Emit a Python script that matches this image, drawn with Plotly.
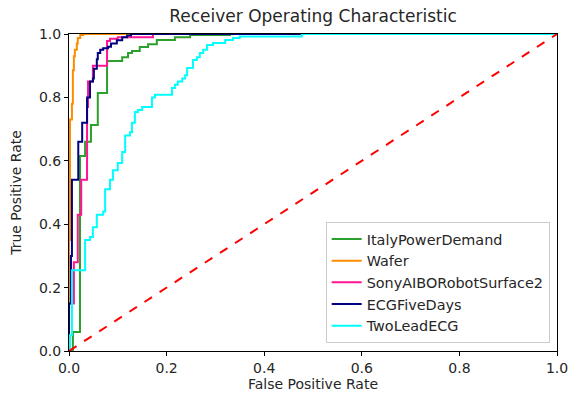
import plotly.graph_objects as go

# ---- data ----
italy_fpr = [0.0, 0.008, 0.0225, 0.033, 0.045, 0.059, 0.078, 0.109, 0.121, 0.129, 0.145, 0.162, 0.180, 0.217, 0.248, 0.33, 1.0]
italy_tpr = [0.0, 0.06, 0.615, 0.66, 0.713, 0.814, 0.915, 0.927, 0.94, 0.946, 0.959, 0.968, 0.981, 0.99, 0.997, 1.0, 1.0]

wafer_fpr = [0.0, 0.002, 0.006, 0.008, 0.010, 0.012, 0.016, 0.018, 0.023, 0.029, 1.0]
wafer_tpr = [0.35, 0.73, 0.78, 0.886, 0.93, 0.95, 0.97, 0.987, 0.997, 1.0, 1.0]

sony_fpr = [0.0, 0.010, 0.018, 0.025, 0.037, 0.039, 0.049, 0.078, 0.084, 0.100, 0.172, 1.0]
sony_tpr = [0.15, 0.28, 0.43, 0.54, 0.77, 0.85, 0.90, 0.978, 0.985, 0.99, 1.0, 1.0]

ecg5_fpr = [0.0, 0.004, 0.006, 0.019, 0.027, 0.037, 0.043, 0.049, 0.051, 0.057, 0.059, 0.064, 0.070, 0.080, 0.086, 0.098, 0.109, 0.119, 0.127, 1.0]
ecg5_tpr = [0.15, 0.30, 0.54, 0.66, 0.72, 0.80, 0.85, 0.86, 0.89, 0.92, 0.94, 0.95, 0.955, 0.96, 0.97, 0.98, 0.99, 0.995, 1.0, 1.0]

twolead_fpr = [0.0, 0.002, 0.006, 0.033, 0.043, 0.049, 0.057, 0.070, 0.074, 0.084, 0.090, 0.100, 0.109, 0.115,
               0.125, 0.129, 0.135, 0.141, 0.150, 0.170, 0.176, 0.211, 0.217, 0.223, 0.232, 0.238, 0.242, 0.254,
               0.262, 0.268, 0.275, 0.283, 0.295, 0.320, 0.336, 0.350, 0.477, 1.0]
twolead_tpr = [0.0, 0.05, 0.255, 0.35, 0.36, 0.39, 0.43, 0.44, 0.51, 0.54, 0.57, 0.593, 0.628, 0.68,
               0.69, 0.72, 0.754, 0.76, 0.77, 0.80, 0.808, 0.83, 0.84, 0.85, 0.86, 0.87, 0.893, 0.918,
               0.927, 0.94, 0.95, 0.965, 0.972, 0.981, 0.987, 0.992, 1.0, 1.0]

diag = [0.0, 1.0]

series = [
    ("ItalyPowerDemand", italy_fpr, italy_tpr, "#2ca02c"),
    ("Wafer", wafer_fpr, wafer_tpr, "#ff8c00"),
    ("SonyAIBORobotSurface2", sony_fpr, sony_tpr, "#ff1493"),
    ("ECGFiveDays", ecg5_fpr, ecg5_tpr, "#000080"),
    ("TwoLeadECG", twolead_fpr, twolead_tpr, "#00ffff"),
]

tick_vals = [0.0, 0.2, 0.4, 0.6, 0.8, 1.0]
tick_text = ["0.0", "0.2", "0.4", "0.6", "0.8", "1.0"]

fig = go.Figure()
for name, fx, ty, col in series:
    xs = [0.0] + fx
    ys = [0.0] + ty
    fig.add_trace(go.Scatter(x=xs, y=ys, mode="lines", name=name,
                             line=dict(color=col, width=2, shape="hv")))

fig.add_trace(go.Scatter(x=diag, y=diag, mode="lines", showlegend=False,
                         line=dict(color="red", width=2, dash="dash")))

font_family = "DejaVu Sans"
fs = 14
fig.update_layout(
    width=568, height=396,
    margin=dict(l=69, r=11, t=34, b=45, autoexpand=False),
    paper_bgcolor="white", plot_bgcolor="white",
    font=dict(family=font_family, size=fs, color="#262626"),
    title=dict(text="Receiver Operating Characteristic", x=(69 + 557) / 2 / 568, xanchor="center",
               y=1 - 16 / 396, yanchor="middle", font=dict(size=17, color="#262626")),
    legend=dict(x=0.985, y=0.025, xanchor="right", yanchor="bottom",
                bgcolor="rgba(255,255,255,0.8)", bordercolor="#cccccc", borderwidth=1,
                font=dict(size=14.4, color="#262626"), tracegroupgap=0),
    showlegend=True,
)
fig.update_xaxes(range=[0, 1], tickvals=tick_vals, ticktext=tick_text, showgrid=False, zeroline=False,
                 showline=True, mirror=True, linecolor="black", linewidth=1, automargin=False,
                 ticks="outside", ticklen=4, tickcolor="black", ticklabeloverflow="allow",
                 title=dict(text="False Positive Rate", font=dict(size=fs), standoff=4),
                 tickfont=dict(size=fs))
fig.update_yaxes(range=[0, 1], tickvals=tick_vals, ticktext=tick_text, showgrid=False, zeroline=False,
                 showline=True, mirror=True, linecolor="black", linewidth=1, automargin=False,
                 ticks="outside", ticklen=4, tickcolor="black", ticklabeloverflow="allow",
                 title=dict(text="True Positive Rate", font=dict(size=fs), standoff=14),
                 tickfont=dict(size=fs))

fig.write_html("out.html")
